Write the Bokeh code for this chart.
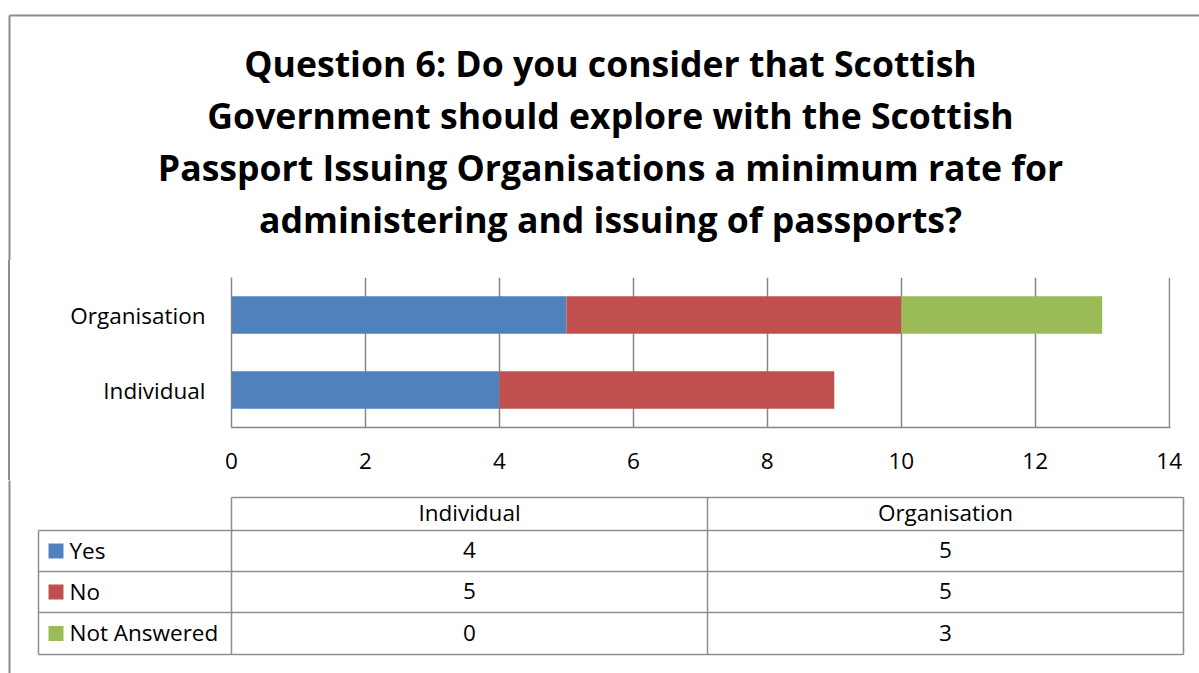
from bokeh.plotting import figure
from bokeh.layouts import column, row
from bokeh.models import ColumnDataSource, Range1d, FactorRange, FixedTicker, Div
from bokeh.core.properties import value
from bokeh.embed import file_html
from bokeh.resources import INLINE

# ---------------- data ----------------
title_lines = [
    "Question 6: Do you consider that Scottish",
    "Government should explore with the Scottish",
    "Passport Issuing Organisations a minimum rate for",
    "administering and issuing of passports?",
]
categories = ["Individual", "Organisation"]
series = ["Yes", "No", "Not Answered"]
yes = [4, 5]
no = [5, 5]
not_answered = [0, 3]
x_ticks = [0, 2, 4, 6, 8, 10, 12, 14]
colors = ["#4F81BD", "#C0504D", "#9BBB59"]

FONT = "Open Sans"
GRID = "#868686"
BORDER = "#8c8c8c"
LBL = "22.5px"

# ---------------- title ----------------
T = figure(width=1199, height=260, x_range=Range1d(0, 1199), y_range=Range1d(260, 0),
           output_backend="svg", toolbar_location=None, min_border=0,
           x_axis_type=None, y_axis_type=None)
T.outline_line_color = None
T.text(x=[610] * len(title_lines), y=[62 + 52 * i for i in range(len(title_lines))],
       text=title_lines, text_font=value(FONT), text_font_size="35.6px",
       text_font_style="bold", text_align="center", text_baseline="middle",
       text_color="black")
T.segment(x0=[9, 9], y0=[15, 15], x1=[1199, 9], y1=[15, 262], line_color=BORDER, line_width=2)

# ---------------- bars ----------------
src = ColumnDataSource({"cat": categories, "Yes": yes, "No": no, "Not Answered": not_answered})
B = figure(width=1189, height=220, y_range=FactorRange(*categories), x_range=Range1d(0, 14.02),
           output_backend="svg", toolbar_location=None,
           min_border_left=221, min_border_right=29, min_border_top=17, min_border_bottom=53)
B.hbar_stack(series, y="cat", height=0.5, fill_color=colors, line_color=None, source=src)
B.outline_line_color = None
B.xaxis.ticker = FixedTicker(ticks=x_ticks)
B.xgrid.ticker = FixedTicker(ticks=x_ticks)
B.xgrid.grid_line_color = GRID
B.xgrid.grid_line_width = 1.5
B.ygrid.grid_line_color = None
for ax in (B.xaxis[0], B.yaxis[0]):
    ax.major_label_text_font = FONT
    ax.major_label_text_font_size = LBL
    ax.major_label_text_color = "black"
    ax.major_tick_out = 0
    ax.major_tick_in = 0
    ax.minor_tick_out = 0
    ax.minor_tick_in = 0
    ax.axis_line_color = GRID
    ax.axis_line_width = 1.5
B.xaxis.major_label_standoff = 25
B.yaxis.major_label_standoff = 26

strip = Div(text="", width=10, height=220, margin=0,
            styles={"border-right": "2px solid " + BORDER, "box-sizing": "border-box",
                    "padding": "0px"})

# ---------------- data table ----------------
C = figure(width=1199, height=193, x_range=Range1d(0, 1199), y_range=Range1d(193, 0),
           output_backend="svg", toolbar_location=None, min_border=0,
           x_axis_type=None, y_axis_type=None)
C.outline_line_color = None
C.segment(x0=[9], y0=[-2], x1=[9], y1=[193], line_color=BORDER, line_width=2)

head_top, head_bot = 17, 50
row_edges = [50, 91, 132, 174]
col_edges = [38, 231, 707, 1183]
TL = "#8e8e8e"
# horizontal lines
hx0 = [col_edges[1]] + [col_edges[0]] * len(row_edges)
hy = [head_top] + row_edges
C.segment(x0=hx0, y0=hy, x1=[col_edges[-1]] * len(hy), y1=hy, line_color=TL, line_width=1.5)
# vertical lines
vx = col_edges
vy0 = [row_edges[0]] + [head_top] * (len(col_edges) - 1)
C.segment(x0=vx, y0=vy0, x1=vx, y1=[row_edges[-1]] * len(vx), line_color=TL, line_width=1.5)

col_centers = [(col_edges[j + 1] + col_edges[j + 2]) / 2 for j in range(len(categories))]
C.text(x=col_centers, y=[(head_top + head_bot) / 2 - 1.5] * len(categories), text=categories,
       text_font=value(FONT), text_font_size=LBL, text_align="center",
       text_baseline="middle", text_color="black")

values = [yes, no, not_answered]
row_centers = [(row_edges[i] + row_edges[i + 1]) / 2 for i in range(len(series))]
C.rect(x=[55.5] * len(series), y=row_centers, width=15, height=15,
       fill_color=colors, line_color=None)
C.text(x=[69] * len(series), y=[c - 1 for c in row_centers], text=series, text_font=value(FONT),
       text_font_size=LBL, text_align="left", text_baseline="middle", text_color="black")
for j, cx in enumerate(col_centers):
    C.text(x=[cx] * len(series), y=[c - 1 for c in row_centers], text=[str(v[j]) for v in values],
           text_font=value(FONT), text_font_size=LBL, text_align="center",
           text_baseline="middle", text_color="black")

layout = column(T, row(strip, B), C)
open("out.html", "w").write(file_html(layout, INLINE))
